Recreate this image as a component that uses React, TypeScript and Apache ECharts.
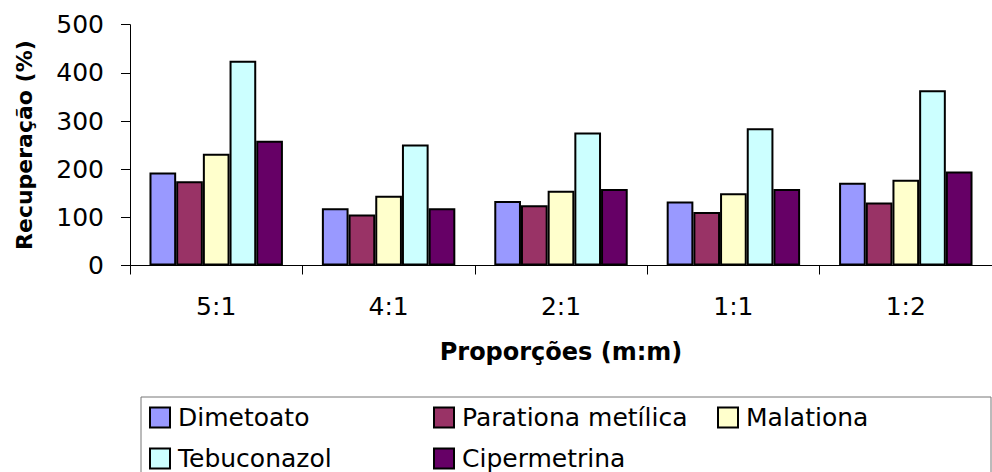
import React, { useEffect, useRef } from "react";
import * as echarts from "echarts";

// Proporções (m:m) tested
const categories = ["5:1", "4:1", "2:1", "1:1", "1:2"];

// Recuperação (%) per pesticide
const dimetoato = [193, 119, 134, 133, 172];
const parationaMetilica = [175, 106, 125, 111, 131];
const malationa = [232, 145, 155, 150, 178];
const tebuconazol = [425, 251, 276, 285, 364];
const cipermetrina = [259, 119, 159, 159, 195];

const seriesNames = ["Dimetoato", "Parationa metílica", "Malationa", "Tebuconazol", "Cipermetrina"];
const seriesColors = ["#9999FF", "#993366", "#FFFFCC", "#CCFFFF", "#660066"];
const seriesData = [dimetoato, parationaMetilica, malationa, tebuconazol, cipermetrina];

const FONT = "DejaVu Sans";

export default function App() {
  const ref = useRef<HTMLDivElement>(null);

  useEffect(() => {
    if (!ref.current) return;
    const chart = echarts.init(ref.current, undefined, { renderer: "svg" });

    const legendBase = {
      orient: "vertical" as const,
      top: 405,
      itemWidth: 20,
      itemHeight: 20,
      itemGap: 16,
      padding: 0,
      selectedMode: false,
      icon: "rect",
      textStyle: {
        fontFamily: FONT,
        fontSize: 25,
        lineHeight: 25,
        color: "#000",
        padding: [0, 0, 0, 3],
      },
    };

    chart.setOption({
      animation: false,
      backgroundColor: "#fff",
      grid: { left: 130, top: 24.7, bottom: 206.5, right: -10, containLabel: false },
      xAxis: {
        type: "category",
        data: categories,
        name: "Proporções (m:m)",
        nameLocation: "middle",
        nameGap: 74,
        nameTextStyle: { fontFamily: FONT, fontSize: 24, fontWeight: "bold", color: "#000" },
        axisLine: { lineStyle: { color: "#000", width: 1 } },
        axisTick: { show: true, length: 9, lineStyle: { color: "#000" } },
        axisLabel: { fontFamily: FONT, fontSize: 25, color: "#000", margin: 28 },
        splitLine: { show: false },
      },
      yAxis: {
        type: "value",
        min: 0,
        max: 500,
        interval: 100,
        name: "Recuperação (%)",
        nameLocation: "middle",
        nameRotate: 90,
        nameGap: 95,
        nameTextStyle: { fontFamily: FONT, fontSize: 22, fontWeight: "bold", color: "#000" },
        axisLine: { show: true, lineStyle: { color: "#000", width: 1 } },
        axisTick: { show: true, length: 9, lineStyle: { color: "#000" } },
        axisLabel: { fontFamily: FONT, fontSize: 25, color: "#000", margin: 26 },
        splitLine: { show: false },
      },
      legend: [
        { ...legendBase, left: 149, data: ["Dimetoato", "Tebuconazol"] },
        { ...legendBase, left: 433, data: ["Parationa metílica", "Cipermetrina"] },
        { ...legendBase, left: 717, data: ["Malationa"] },
      ],
      graphic: [
        {
          type: "rect",
          z: -1,
          shape: { x: 141, y: 397, width: 850, height: 120 },
          style: { fill: "#fff", stroke: "#777", lineWidth: 1 },
        },
      ],
      series: seriesNames.map((name, i) => ({
        name,
        type: "bar",
        data: seriesData[i],
        barGap: "0%",
        barCategoryGap: "22.6%",
        itemStyle: { color: seriesColors[i], borderColor: "#000", borderWidth: 2 },
      })),
    });

    return () => chart.dispose();
  }, []);

  return (
    <div
      ref={ref}
      style={{ position: "fixed", left: 0, top: 0, width: 992, height: 472, background: "#fff" }}
    />
  );
}
